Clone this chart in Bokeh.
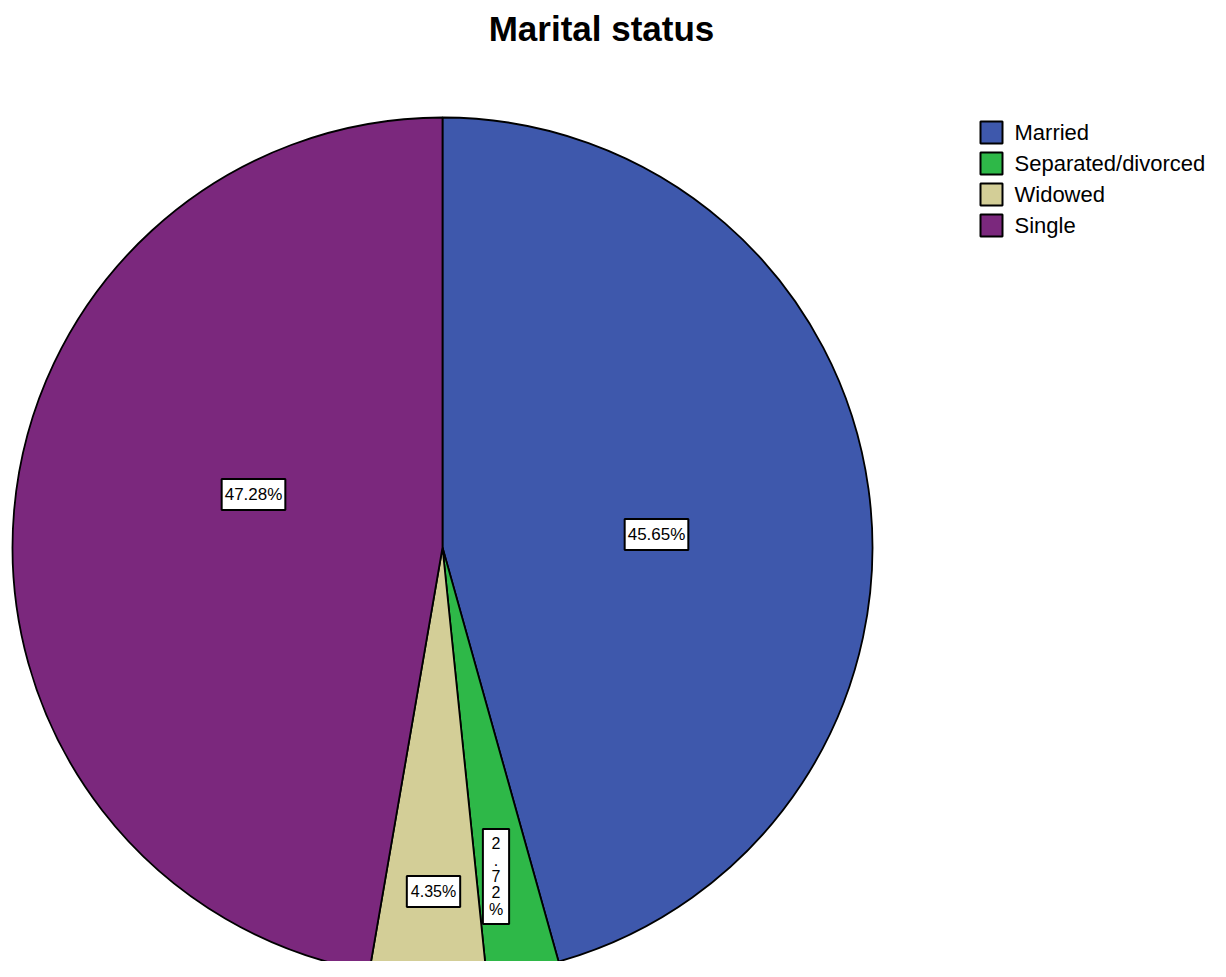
import math
from bokeh.plotting import figure
from bokeh.models import Range1d, ColumnDataSource
from bokeh.core.properties import value
from bokeh.embed import file_html
from bokeh.resources import INLINE

# ---- data ----
categories = ["Married", "Separated/divorced", "Widowed", "Single"]
percents = [45.65, 2.72, 4.35, 47.28]
colors = ["#3E58AC", "#2EB848", "#D3CE97", "#7B287D"]
title_text = "Marital status"

# ---- layout (screen pixel coordinates) ----
W, H = 1210, 961
CX, CY, R = 442, 547, 430
# label anchor points (screen px) per slice, and whether stacked vertically
label_pos = [(656, 534), (495.5, 876), (433, 891), (253, 494)]
label_vertical = [False, True, False, False]
label_size = ["17px", "16px", "16px", "17px"]
label_pad = [(3, 6), (6, 6), (4, 7), (3, 6)]
FONT = "Liberation Sans"

p = figure(width=W, height=H, output_backend="svg", toolbar_location=None,
           x_range=Range1d(0, W), y_range=Range1d(-H, 0),
           min_border=0, outline_line_color=None)
p.axis.visible = False
p.grid.visible = False
p.background_fill_color = "white"
p.border_fill_color = "white"

total = sum(percents)
starts, ends = [], []
cum = 0.0
for v in percents:
    starts.append(math.pi / 2 - 2 * math.pi * cum / total)
    cum += v
    ends.append(math.pi / 2 - 2 * math.pi * cum / total)

src = ColumnDataSource(dict(cat=categories, pct=percents, color=colors,
                            start=starts, end=ends,
                            x=[CX] * len(categories), y=[-CY] * len(categories)))
p.wedge(x="x", y="y", radius=R, start_angle="start", end_angle="end",
        direction="clock", fill_color="color", line_color="black",
        line_width=1.8, source=src)

# slice labels
for i, v in enumerate(percents):
    txt = f"{v:.2f}%"
    if label_vertical[i]:
        txt = "\n".join(txt)
    lx, ly = label_pos[i]
    p.text(x=[lx], y=[-ly], text=[txt], text_font=value(FONT),
           text_font_size=label_size[i], text_align="center",
           text_baseline="middle", text_color="black",
           text_line_height=0.97 if label_vertical[i] else 1.2,
           background_fill_color="white", border_line_color="black",
           border_line_width=2, padding=label_pad[i])

# title
p.text(x=[601], y=[-28], text=[title_text], text_font=value(FONT),
       text_font_size="35px", text_font_style="bold", text_align="center",
       text_baseline="middle", text_color="black")

# legend
ly0, dy = 132, 31
leg_y = [-(ly0 + dy * i) for i in range(len(categories))]
leg = ColumnDataSource(dict(cat=categories, color=colors, y=leg_y,
                            x=[991] * len(categories), tx=[1014] * len(categories)))
p.rect(x="x", y="y", width=22, height=22, fill_color="color",
       line_color="black", line_width=2, source=leg)
p.text(x="tx", y="y", text="cat", text_font=value(FONT), text_font_size="22px",
       text_baseline="middle", text_align="left", text_color="black", source=leg)

open("out.html", "w").write(file_html(p, INLINE))
